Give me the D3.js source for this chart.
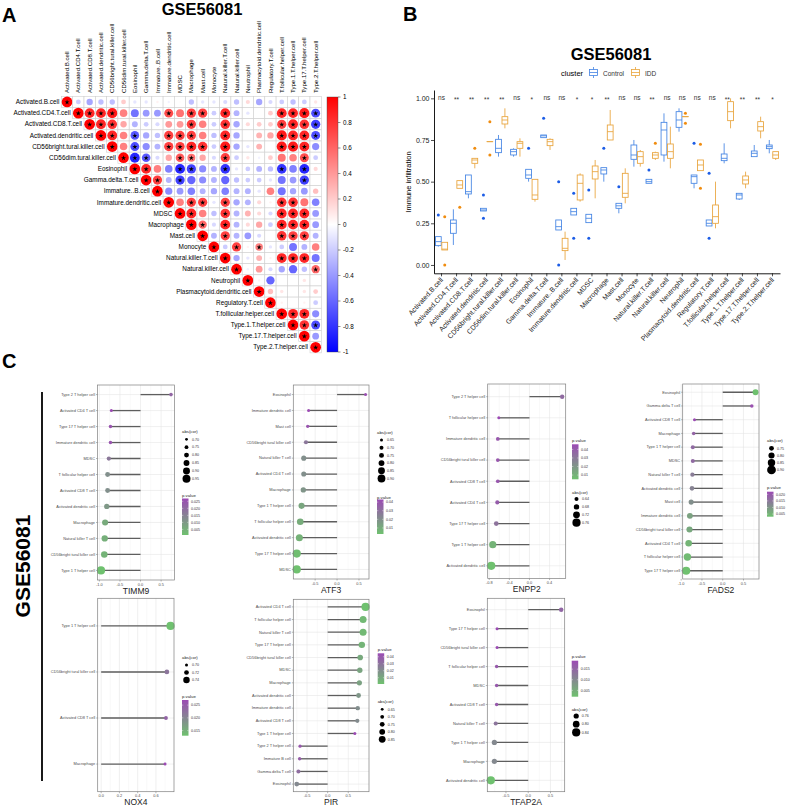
<!DOCTYPE html>
<html>
<head>
<meta charset="utf-8">
<script src="https://cdn.jsdelivr.net/npm/d3@7"></script>
<style>
body { margin: 0; background: #fff; }
svg { display: block; font-family: "Liberation Sans", Arial, Helvetica, sans-serif; }
</style>
</head>
<body>
<svg id="fig" width="789" height="810"></svg>
<script>
// ---------- data: panel A (correlation matrix, upper triangle from the diagonal) ----------
var cellTypes = ["Activated.B.cell", "Activated.CD4.T.cell", "Activated.CD8.T.cell", "Activated.dendritic.cell",
  "CD56bright.tural.killer.cell", "CD56dim.tural.killer.cell", "Eosinophil", "Gamma.delta.T.cell", "Immature..B.cell",
  "Immature.dendritic.cell", "MDSC", "Macrophage", "Mast.cell", "Monocyte", "Natural.killer.T.cell",
  "Natural.killer.cell", "Neutrophil", "Plasmacytoid.dendritic.cell", "Regulatory.T.cell",
  "T.follicular.helper.cell", "Type.1.T.helper.cell", "Type.17.T.helper.cell", "Type.2.T.helper.cell"];

var corrRows = [
  [1, -0.2, -0.35, -0.25, -0.25, 0.2, -0.1, -0.1, 0.05, -0.05, 0.02, -0.25, -0.1, -0.1, -0.15, -0.25, 0.15, -0.35, -0.15, -0.2, -0.25, -0.2, 0.1],
  [1, 0.85, 0.85, 0.9, 0.5, -0.55, -0.4, -0.4, 0.7, 0.55, 0.75, 0.75, -0.2, 0.85, -0.3, -0.1, 0, 0.2, 0.85, 0.85, 0.9, -0.7],
  [1, 0.85, 0.8, 0.35, -0.3, -0.2, -0.15, 0.4, 0.4, 0.75, 0.5, -0.2, 0.8, -0.35, 0.15, 0.2, 0.2, 0.75, 0.85, 0.8, -0.75],
  [1, 0.85, 0.5, -0.65, -0.35, -0.25, 0.75, 0.75, 0.75, 0.5, -0.25, 0.85, -0.35, 0, 0.3, 0.35, 0.9, 0.85, 0.85, -0.7],
  [1, 0.5, -0.7, -0.45, -0.3, 0.75, 0.75, 0.85, 0.8, -0.2, 0.9, -0.35, -0.1, 0.3, 0, 0.9, 0.9, 0.85, -0.45],
  [1, -0.85, -0.65, -0.15, 0.35, 0.65, 0.55, 0.35, -0.15, 0.75, -0.2, 0.1, -0.05, 0.2, 0.55, 0.5, 0.7, -0.2],
  [1, 0.85, 0.5, -0.5, -0.85, -0.75, -0.45, -0.3, -0.8, -0.1, -0.2, -0.3, -0.25, -0.8, -0.5, -0.85, 0.15],
  [1, 0.75, -0.3, -0.75, -0.6, -0.45, -0.3, -0.6, -0.25, -0.2, -0.2, -0.1, -0.55, -0.4, -0.75, 0],
  [1, -0.45, -0.4, -0.5, -0.3, -0.35, -0.5, -0.3, -0.3, -0.1, 0.5, -0.55, -0.35, -0.4, 0.25],
  [1, 0.5, 0.75, 0.75, -0.1, 0.75, -0.35, -0.3, 0.15, 0.05, 0.8, 0.8, 0.55, -0.5],
  [1, 0.85, 0.5, -0.25, 0.8, -0.3, 0.3, 0.15, -0.15, 0.85, 0.85, 0.85, -0.4],
  [1, 0.6, -0.15, 0.85, -0.3, 0.15, 0.35, -0.2, 0.85, 0.85, 0.85, -0.4],
  [1, -0.3, 0.75, -0.3, -0.4, -0.15, 0, 0.8, 0.75, 0.75, -0.3],
  [1, -0.2, 0.75, 0.05, 0.5, -0.1, -0.2, -0.55, -0.3, 0.5],
  [1, -0.35, -0.1, 0.3, 0.05, 0.85, 0.85, 0.85, -0.55],
  [1, -0.05, 0.4, -0.15, -0.35, -0.6, -0.25, 0.6],
  [1, 0.05, -0.6, 0, 0, 0.1, 0],
  [1, 0.25, 0.1, 0, 0.1, 0.2],
  [1, 0.05, 0, 0.05, -0.2],
  [1, 0.85, 0.85, -0.45],
  [1, 0.8, -0.7],
  [1, -0.4],
  [1]
];

// column indices carrying a significance star, per row
var corrStars = [
  [0], [1, 2, 3, 4, 9, 11, 12, 14, 19, 20, 21, 22], [2, 3, 4, 11, 14, 19, 20, 21, 22],
  [3, 4, 6, 9, 10, 11, 14, 19, 20, 21, 22], [4, 6, 9, 10, 11, 12, 14, 19, 20, 21],
  [5, 6, 7, 10, 11, 14, 21], [6, 7, 10, 11, 14, 19, 21], [7, 8, 10, 21], [8],
  [9, 11, 12, 14, 19, 20], [10, 11, 14, 19, 20, 21], [11, 12, 14, 19, 20, 21], [12, 14, 19, 20, 21],
  [13, 15, 17], [14, 19, 20, 21], [15, 22], [16], [17], [18], [19, 20, 21], [20, 21, 22], [21], [22]
];

var corrTicks = [1, 0.8, 0.6, 0.4, 0.2, 0, -0.2, -0.4, -0.6, -0.8, -1];
var corrTickLabels = ["1", "0.8", "0.6", "0.4", "0.2", "0", "-0.2", "-0.4", "-0.6", "-0.8", "-1"];

// ---------- data: panel B (box stats: [lower whisker, q1, median, q3, upper whisker]) ----------
var sigLabels = ["ns", "**", "**", "**", "**", "ns", "*", "ns", "ns", "*", "*", "**", "ns", "ns", "**", "ns",
  "ns", "ns", "ns", "**", "**", "**", "*"];

var controlBox = [
  [0.11, 0.116, 0.14, 0.17, 0.17], [0.12, 0.19, 0.25, 0.27, 0.334], [0.40, 0.426, 0.44, 0.54, 0.54],
  [0.324, 0.324, 0.33, 0.34, 0.34], [0.65, 0.674, 0.70, 0.754, 0.78], [0.65, 0.66, 0.68, 0.694, 0.70],
  [0.50, 0.52, 0.54, 0.574, 0.574], [0.764, 0.764, 0.775, 0.78, 0.78], [0.21, 0.21, 0.23, 0.27, 0.27],
  [0.30, 0.30, 0.32, 0.34, 0.34], [0.254, 0.254, 0.28, 0.304, 0.304], [0.50, 0.546, 0.57, 0.584, 0.584],
  [0.31, 0.34, 0.355, 0.37, 0.37], [0.59, 0.634, 0.66, 0.72, 0.75], [0.49, 0.49, 0.50, 0.514, 0.514],
  [0.62, 0.66, 0.81, 0.856, 0.91], [0.80, 0.826, 0.87, 0.92, 0.94], [0.46, 0.49, 0.53, 0.54, 0.54],
  [0.234, 0.234, 0.25, 0.27, 0.27], [0.61, 0.626, 0.64, 0.666, 0.73], [0.39, 0.396, 0.42, 0.43, 0.43],
  [0.65, 0.65, 0.67, 0.684, 0.72], [0.67, 0.698, 0.71, 0.72, 0.75]
];
var controlOut = [[0.30], [], [], [0.42, 0.28], [], [], [0.70], [0.88], [0.50, 0.0], [0.43, 0.16], [0.45, 0.16],
  [0.70], [0.47], [], [0.57], [], [], [0.73], [0.55, 0.16], [], [], [], []];

var iddBox = [
  [0.09, 0.09, 0.095, 0.136, 0.136], [0.46, 0.46, 0.48, 0.506, 0.506], [0.58, 0.61, 0.63, 0.64, 0.64],
  [0.74, 0.74, 0.74, 0.74, 0.74], [0.82, 0.846, 0.87, 0.89, 0.94], [0.65, 0.70, 0.73, 0.74, 0.76],
  [0.38, 0.394, 0.42, 0.514, 0.514], [0.69, 0.716, 0.74, 0.754, 0.76], [0.03, 0.086, 0.10, 0.16, 0.20],
  [0.38, 0.39, 0.49, 0.54, 0.55], [0.40, 0.516, 0.56, 0.594, 0.63], [0.75, 0.75, 0.80, 0.84, 0.93],
  [0.37, 0.406, 0.43, 0.55, 0.58], [0.59, 0.61, 0.65, 0.68, 0.69], [0.63, 0.64, 0.66, 0.674, 0.68],
  [0.58, 0.64, 0.68, 0.726, 0.83], [0.89, 0.89, 0.89, 0.89, 0.89], [0.566, 0.566, 0.60, 0.63, 0.63],
  [0.22, 0.25, 0.29, 0.36, 0.50], [0.82, 0.866, 0.92, 0.98, 1.0], [0.46, 0.486, 0.51, 0.534, 0.56],
  [0.76, 0.804, 0.83, 0.86, 0.89], [0.63, 0.64, 0.66, 0.68, 0.68]
];
var iddOut = [[0.29, 0.0], [0.346], [0.70], [0.86, 0.66], [], [], [], [], [], [], [], [], [], [], [0.73],
  [], [0.91, 0.85], [0.725, 0.46], [], [], [], [], []];

var yTicksB = [0, 0.25, 0.5, 0.75, 1];
var groupNames = ["Control", "IDD"];

// ---------- data: panel C (lollipop per gene) ----------
var genes = ["TIMM9", "ATF3", "ENPP2", "FADS2", "NOX4", "PIR", "TFAP2A"];

var timm9Cells = ["Type 2 T helper cell", "Activated CD4 T cell", "Type 17 T helper cell", "Immature dendritic cell",
  "MDSC", "T follicular helper cell", "Activated CD8 T cell", "Activated dendritic cell", "Macrophage",
  "Natural killer T cell", "CD56bright tural killer cell", "Type 1 T helper cell"];
var timm9Cor = [0.74, -0.71, -0.73, -0.73, -0.77, -0.80, -0.80, -0.82, -0.86, -0.87, -0.88, -0.96];
var timm9P = [0.021, 0.027, 0.025, 0.025, 0.017, 0.012, 0.012, 0.010, 0.006, 0.005, 0.004, 0.001];
var timm9Ticks = [-1.0, -0.5, 0.0, 0.5];
var timm9SizeBreaks = [0.70, 0.75, 0.80, 0.85, 0.90, 0.95];
var timm9PBreaks = [0.025, 0.020, 0.015, 0.010, 0.005];

var atf3Cells = ["Eosinophil", "Immature dendritic cell", "Mast cell", "CD56bright tural killer cell",
  "Natural killer T cell", "Activated CD4 T cell", "Macrophage", "Type 1 T helper cell", "T follicular helper cell",
  "Activated dendritic cell", "Type 17 T helper cell", "MDSC"];
var atf3Cor = [0.65, -0.65, -0.67, -0.71, -0.76, -0.76, -0.77, -0.81, -0.84, -0.86, -0.92, -0.92];
var atf3P = [0.042, 0.043, 0.040, 0.028, 0.020, 0.020, 0.018, 0.012, 0.010, 0.008, 0.004, 0.003];
var atf3Ticks = [-0.5, 0.0, 0.5];
var atf3SizeBreaks = [0.65, 0.70, 0.75, 0.80, 0.85, 0.90];
var atf3PBreaks = [0.04, 0.03, 0.02, 0.01];

var enpp2Cells = ["Type 2 T helper cell", "T follicular helper cell", "Immature dendritic cell",
  "CD56bright tural killer cell", "Activated CD8 T cell", "Activated CD4 T cell", "Type 17 T helper cell",
  "Type 1 T helper cell", "Activated dendritic cell"];
var enpp2Cor = [0.65, -0.61, -0.63, -0.63, -0.63, -0.64, -0.66, -0.73, -0.76];
var enpp2P = [0.035, 0.046, 0.042, 0.042, 0.042, 0.040, 0.032, 0.010, 0.005];
var enpp2Ticks = [-0.8, -0.4, 0.0, 0.4];
var enpp2SizeBreaks = [0.64, 0.68, 0.72, 0.76];
var enpp2PBreaks = [0.04, 0.03, 0.02, 0.01];

var fads2Cells = ["Eosinophil", "Gamma delta T cell", "Activated CD8 T cell", "Macrophage", "Type 1 T helper cell",
  "MDSC", "Natural killer T cell", "Activated dendritic cell", "Mast cell", "Immature dendritic cell",
  "CD56bright tural killer cell", "Activated CD4 T cell", "T follicular helper cell", "Type 17 T helper cell"];
var fads2Cor = [0.79, 0.70, -0.68, -0.70, -0.72, -0.72, -0.73, -0.74, -0.76, -0.79, -0.80, -0.82, -0.85, -0.88];
var fads2P = [0.003, 0.021, 0.022, 0.018, 0.017, 0.017, 0.014, 0.013, 0.011, 0.008, 0.007, 0.005, 0.004, 0.003];
var fads2Ticks = [-1.0, -0.5, 0.0, 0.5];
var fads2SizeBreaks = [0.75, 0.80, 0.85, 0.90];
var fads2PBreaks = [0.020, 0.015, 0.010, 0.005];

var nox4Cells = ["Type 1 T helper cell", "CD56bright tural killer cell", "Activated CD8 T cell", "Macrophage"];
var nox4Cor = [0.76, 0.72, 0.71, 0.70];
var nox4P = [0.013, 0.022, 0.024, 0.027];
var nox4Ticks = [0.0, 0.2, 0.4, 0.6];
var nox4SizeBreaks = [0.70, 0.72, 0.74];
var nox4PBreaks = [0.025, 0.020, 0.015];

var pirCells = ["Activated CD4 T cell", "T follicular helper cell", "Natural killer T cell", "Type 17 T helper cell",
  "CD56bright tural killer cell", "MDSC", "Macrophage", "Activated dendritic cell", "Immature dendritic cell",
  "Activated CD8 T cell", "Type 1 T helper cell", "Type 2 T helper cell", "Immature  B cell", "Gamma delta T cell",
  "Eosinophil"];
var pirCor = [0.92, 0.86, 0.86, 0.83, 0.79, 0.78, 0.77, 0.75, 0.73, 0.72, 0.66, -0.67, -0.68, -0.71, -0.75];
var pirP = [0.001, 0.004, 0.004, 0.006, 0.010, 0.012, 0.013, 0.017, 0.020, 0.021, 0.045, 0.040, 0.038, 0.032, 0.022];
var pirTicks = [-0.5, 0.0, 0.5];
var pirSizeBreaks = [0.65, 0.70, 0.75, 0.80, 0.85];
var pirPBreaks = [0.04, 0.03, 0.02, 0.01];

var tfap2aCells = ["Eosinophil", "Type 17 T helper cell", "CD56bright tural killer cell", "T follicular helper cell",
  "MDSC", "Activated CD8 T cell", "Natural killer T cell", "Type 1 T helper cell", "Macrophage",
  "Activated dendritic cell"];
var tfap2aCor = [0.74, -0.70, -0.70, -0.71, -0.71, -0.71, -0.73, -0.76, -0.76, -0.84];
var tfap2aP = [0.015, 0.019, 0.019, 0.017, 0.017, 0.017, 0.013, 0.010, 0.010, 0.002];
var tfap2aTicks = [-0.5, 0.0, 0.5];
var tfap2aSizeBreaks = [0.76, 0.80, 0.84];
var tfap2aPBreaks = [0.015, 0.010, 0.005];

// ---------- drawing ----------
var svg = d3.select("#fig");
svg.append("rect").attr("width", 789).attr("height", 810).attr("fill", "#fff");
var defs = svg.append("defs");

function label(txt, x, y, size, opts) {
  opts = opts || {};
  var t = svg.append("text").attr("x", x).attr("y", y).attr("font-size", size).text(txt)
    .attr("fill", opts.fill || "#000").attr("font-weight", opts.bold ? "bold" : null)
    .attr("text-anchor", opts.anchor || "start");
  if (opts.rotate) t.attr("transform", "rotate(" + opts.rotate + "," + x + "," + y + ")");
  return t;
}

label("A", 2, 22, 20, {bold: true});
label("B", 403, 21, 20, {bold: true});
label("C", 2, 368, 20, {bold: true});

// ----- Panel A -----
function drawCorr() {
  var g = svg.append("g");
  var x = d3.scaleBand().domain(cellTypes).range([61.4, 61.4 + 23 * 11.3]);
  var y = d3.scaleBand().domain(cellTypes).range([96.4, 96.4 + 23 * 11.15]);
  var col = d3.scaleLinear().domain([-1, 0, 1]).range(["#0000ff", "#ffffff", "#ff0000"]);
  var rMax = Math.min(x.bandwidth(), y.bandwidth()) * 0.48;
  var star = d3.symbol(d3.symbolStar).size(8);

  label("GSE56081", 202, 14.5, 16.5, {bold: true, anchor: "middle"});

  corrRows.forEach(function (row, i) {
    row.forEach(function (r, k) {
      var j = i + k;
      var cx = x(cellTypes[j]) + x.bandwidth() / 2, cy = y(cellTypes[i]) + y.bandwidth() / 2;
      g.append("rect").attr("x", x(cellTypes[j])).attr("y", y(cellTypes[i]))
        .attr("width", x.bandwidth()).attr("height", y.bandwidth())
        .attr("fill", "#fff").attr("stroke", "#cfcfcf").attr("stroke-width", 0.6);
      if (Math.abs(r) > 0.001) {
        g.append("circle").attr("cx", cx).attr("cy", cy).attr("r", rMax * Math.sqrt(Math.abs(r)))
          .attr("fill", col(r));
      }
      if (corrStars[i].indexOf(j) >= 0) {
        g.append("path").attr("d", star).attr("transform", "translate(" + cx + "," + (cy + 0.3) + ")")
          .attr("fill", "#000");
      }
    });
    label(cellTypes[i], x(cellTypes[i]) - 2, y(cellTypes[i]) + y.bandwidth() / 2 + 2.2, 6.4, {anchor: "end"});
    var cxl = x(cellTypes[i]) + x.bandwidth() / 2 + 2.1;
    label(cellTypes[i], cxl, 93, 6.1, {rotate: -90});
  });

  // colour legend
  var cy = d3.scaleLinear().domain([-1, 1]).range([352, 97]);
  var grad = defs.append("linearGradient").attr("id", "corrGrad").attr("x1", 0).attr("y1", 1).attr("x2", 0).attr("y2", 0);
  grad.append("stop").attr("offset", "0%").attr("stop-color", "#0000ff");
  grad.append("stop").attr("offset", "50%").attr("stop-color", "#ffffff");
  grad.append("stop").attr("offset", "100%").attr("stop-color", "#ff0000");
  g.append("rect").attr("x", 327).attr("y", cy(1)).attr("width", 11).attr("height", cy(-1) - cy(1))
    .attr("fill", "url(#corrGrad)").attr("stroke", "#444").attr("stroke-width", 0.4);
  corrTicks.forEach(function (v, i) {
    g.append("line").attr("x1", 338).attr("x2", 340.5).attr("y1", cy(v)).attr("y2", cy(v))
      .attr("stroke", "#222").attr("stroke-width", 0.5);
    label(corrTickLabels[i], 343, cy(v) + 2.2, 6.3);
  });
}

// ----- Panel B -----
function drawBox() {
  var g = svg.append("g");
  var x = d3.scaleBand().domain(cellTypes).range([434, 780]);
  var y = d3.scaleLinear().domain([-0.05, 1.05]).range([273.3, 90]);
  var stroke = ["#4283e3", "#e8a33a"], dot = ["#1b5ce6", "#f08c0f"];
  var off = [-3.2, 3.2], bw = 5.8;

  label("GSE56081", 611, 60, 16.5, {bold: true, anchor: "middle"});

  [controlBox, iddBox].forEach(function (stats, gi) {
    var outs = gi === 0 ? controlOut : iddOut;
    stats.forEach(function (s, i) {
      var cx = x(cellTypes[i]) + x.bandwidth() / 2 + off[gi];
      var bg = g.append("g").attr("stroke", stroke[gi]).attr("stroke-width", 0.85).attr("fill", "none");
      bg.append("line").attr("x1", cx).attr("x2", cx).attr("y1", y(s[0])).attr("y2", y(s[1]));
      bg.append("line").attr("x1", cx).attr("x2", cx).attr("y1", y(s[3])).attr("y2", y(s[4]));
      bg.append("rect").attr("x", cx - bw / 2).attr("y", y(s[3])).attr("width", bw)
        .attr("height", Math.max(0.01, y(s[1]) - y(s[3]))).attr("fill", "#fff");
      bg.append("line").attr("x1", cx - bw / 2).attr("x2", cx + bw / 2).attr("y1", y(s[2])).attr("y2", y(s[2]));
      outs[i].forEach(function (v) {
        g.append("circle").attr("cx", cx).attr("cy", y(v)).attr("r", 1.5).attr("fill", dot[gi]);
      });
    });
  });

  sigLabels.forEach(function (s, i) {
    label(s, x(cellTypes[i]) + x.bandwidth() / 2, y(1) + (s === "ns" ? 2 : 3.2), 6.5, {anchor: "middle", fill: "#333"});
  });

  var ay = g.append("g").attr("transform", "translate(434,0)")
    .call(d3.axisLeft(y).tickValues(yTicksB).tickFormat(d3.format(".2f")).tickSize(3).tickSizeOuter(0));
  var ax = g.append("g").attr("transform", "translate(0,273.3)")
    .call(d3.axisBottom(x).tickSize(3).tickSizeOuter(0));
  [ax, ay].forEach(function (a) {
    a.attr("font-family", null).attr("font-size", null);
    a.select(".domain").attr("stroke", "#000").attr("stroke-width", 0.9);
    a.selectAll(".tick line").attr("stroke", "#000").attr("stroke-width", 0.7);
    a.selectAll(".tick text").attr("font-size", 7).attr("fill", "#222");
  });
  ay.selectAll(".tick text").attr("x", -4.5);
  ax.selectAll(".tick text").attr("text-anchor", "end").attr("dy", null).attr("y", 0)
    .attr("transform", "translate(2,7) rotate(-48)");

  label("Immune infiltration", 411, 182, 7.5, {anchor: "middle", rotate: -90});

  // legend
  label("cluster", 561, 76, 7.5);
  var keys = [[589, 603], [631, 645]];
  keys.forEach(function (k, gi) {
    var kg = g.append("g").attr("stroke", stroke[gi]).attr("stroke-width", 0.8).attr("fill", "#fff");
    kg.append("line").attr("x1", k[0] + 4.5).attr("x2", k[0] + 4.5).attr("y1", 67).attr("y2", 78);
    kg.append("rect").attr("x", k[0] + 0.5).attr("y", 69.5).attr("width", 8).attr("height", 6);
    kg.append("line").attr("x1", k[0] + 0.5).attr("x2", k[0] + 8.5).attr("y1", 72.5).attr("y2", 72.5);
    label(groupNames[gi], k[1], 75.5, 6.5, {fill: "#333"});
  });
}

// ----- Panel C -----
var lolliData = [
  {cells: timm9Cells, cor: timm9Cor, p: timm9P, ticks: timm9Ticks, sizeBreaks: timm9SizeBreaks, pBreaks: timm9PBreaks},
  {cells: atf3Cells, cor: atf3Cor, p: atf3P, ticks: atf3Ticks, sizeBreaks: atf3SizeBreaks, pBreaks: atf3PBreaks},
  {cells: enpp2Cells, cor: enpp2Cor, p: enpp2P, ticks: enpp2Ticks, sizeBreaks: enpp2SizeBreaks, pBreaks: enpp2PBreaks},
  {cells: fads2Cells, cor: fads2Cor, p: fads2P, ticks: fads2Ticks, sizeBreaks: fads2SizeBreaks, pBreaks: fads2PBreaks},
  {cells: nox4Cells, cor: nox4Cor, p: nox4P, ticks: nox4Ticks, sizeBreaks: nox4SizeBreaks, pBreaks: nox4PBreaks},
  {cells: pirCells, cor: pirCor, p: pirP, ticks: pirTicks, sizeBreaks: pirSizeBreaks, pBreaks: pirPBreaks},
  {cells: tfap2aCells, cor: tfap2aCor, p: tfap2aP, ticks: tfap2aTicks, sizeBreaks: tfap2aSizeBreaks, pBreaks: tfap2aPBreaks}
];

// panel boxes and legend placement
var lolliLayout = [
  {x0: 97.5, x1: 174.5, y0: 385, y1: 580, lx: 182, absT: 433, absY: 439.3, absStep: 7.9, pT: 496.5, barY0: 498.5, barY1: 535},
  {x0: 293.3, x1: 369, y0: 385, y1: 579, lx: 377, absT: 433.5, absY: 440, absStep: 7.7, pT: 498.5, barY0: 499.5, barY1: 534},
  {x0: 487.7, x1: 565.7, y0: 384, y1: 578.5, lx: 572, absT: 493.5, absY: 499, absStep: 7.9, pT: 441.5, barY0: 444.3, barY1: 479.3},
  {x0: 682.7, x1: 759, y0: 384, y1: 579, lx: 767, absT: 441.5, absY: 448.3, absStep: 7.2, pT: 488.5, barY0: 491.7, barY1: 516.7},
  {x0: 97.7, x1: 174, y0: 598.3, y1: 791.7, lx: 182, absT: 658.5, absY: 665, absStep: 7.5, pT: 697.5, barY0: 700, barY1: 735.7},
  {x0: 293.3, x1: 369, y0: 599.3, y1: 791.7, lx: 377.7, absT: 702.5, absY: 709.3, absStep: 7.5, pT: 650.5, barY0: 653.3, barY1: 684},
  {x0: 487.3, x1: 564.7, y0: 598.3, y1: 791.7, lx: 571.7, absT: 710.5, absY: 716, absStep: 8.2, pT: 658, barY0: 660.7, barY1: 696.7}
];

function drawLolli(d, L, gene, idx) {
  var g = svg.append("g");
  var lo = Math.min(0, d3.min(d.cor)), hi = Math.max(0, d3.max(d.cor));
  var pad = (hi - lo) * 0.05;
  var x = d3.scaleLinear().domain([lo - pad, hi + pad]).range([L.x0, L.x1]);
  var y = d3.scalePoint().domain(d.cells).range([L.y0, L.y1]).padding(0.6);
  var size = d3.scaleLinear().domain(d3.extent(d.cor, Math.abs)).range([1.5, 4.1]);
  var col = d3.scaleLinear().domain(d3.extent(d.p)).range(["#6fc16f", "#9c4bb4"]).interpolate(d3.interpolateRgb);

  g.append("rect").attr("x", L.x0).attr("y", L.y0).attr("width", L.x1 - L.x0).attr("height", L.y1 - L.y0)
    .attr("fill", "#fff");
  var step = d.ticks[1] - d.ticks[0];
  var minor = d3.range(d.ticks[0] - step / 2, hi + pad, step).filter(function (v) { return v > lo - pad; });
  minor.forEach(function (v) {
    g.append("line").attr("x1", x(v)).attr("x2", x(v)).attr("y1", L.y0).attr("y2", L.y1)
      .attr("stroke", "#f0f0f0").attr("stroke-width", 0.4);
  });
  d.ticks.forEach(function (v) {
    g.append("line").attr("x1", x(v)).attr("x2", x(v)).attr("y1", L.y0).attr("y2", L.y1)
      .attr("stroke", "#e3e3e3").attr("stroke-width", 0.55);
    g.append("line").attr("x1", x(v)).attr("x2", x(v)).attr("y1", L.y1).attr("y2", L.y1 + 1.5)
      .attr("stroke", "#444").attr("stroke-width", 0.4);
    label(d3.format(".1f")(v).replace("−", "-"), x(v), L.y1 + 5.5, 3.9, {anchor: "middle", fill: "#4d4d4d"});
  });
  d.cells.forEach(function (c) {
    g.append("line").attr("x1", L.x0).attr("x2", L.x1).attr("y1", y(c)).attr("y2", y(c))
      .attr("stroke", "#e3e3e3").attr("stroke-width", 0.55);
    g.append("line").attr("x1", L.x0 - 1.5).attr("x2", L.x0).attr("y1", y(c)).attr("y2", y(c))
      .attr("stroke", "#444").attr("stroke-width", 0.4);
    label(c, L.x0 - 2.5, y(c) + 1.3, 3.9, {anchor: "end", fill: "#4d4d4d"});
  });
  d.cor.forEach(function (v, i) {
    var yy = y(d.cells[i]);
    g.append("line").attr("x1", x(0)).attr("x2", x(v)).attr("y1", yy).attr("y2", yy)
      .attr("stroke", "#5e5e5e").attr("stroke-width", 1.3);
    g.append("circle").attr("cx", x(v)).attr("cy", yy).attr("r", size(Math.abs(v))).attr("fill", col(d.p[i]));
  });
  g.append("rect").attr("x", L.x0).attr("y", L.y0).attr("width", L.x1 - L.x0).attr("height", L.y1 - L.y0)
    .attr("fill", "none").attr("stroke", "#7f7f7f").attr("stroke-width", 0.7);

  label(gene, (L.x0 + L.x1) / 2, L.y1 + 13.5, 8.5, {anchor: "middle", fill: "#222"});

  // size legend
  label("abs(cor)", L.lx, L.absT, 4.3, {fill: "#222"});
  d.sizeBreaks.forEach(function (b, i) {
    var yy = L.absY + i * L.absStep;
    g.append("circle").attr("cx", L.lx + 4.5).attr("cy", yy).attr("r", Math.max(1.1, size(b))).attr("fill", "#000");
    label(d3.format(".2f")(b), L.lx + 10, yy + 1.2, 3.6, {fill: "#333"});
  });

  // p value colour bar
  label("p.value", L.lx, L.pT, 4.3, {fill: "#222"});
  var gid = "pgrad" + idx;
  var grad = defs.append("linearGradient").attr("id", gid).attr("x1", 0).attr("y1", 1).attr("x2", 0).attr("y2", 0);
  grad.append("stop").attr("offset", "0%").attr("stop-color", col.range()[0]);
  grad.append("stop").attr("offset", "100%").attr("stop-color", col.range()[1]);
  g.append("rect").attr("x", L.lx).attr("y", L.barY0).attr("width", 6.5).attr("height", L.barY1 - L.barY0)
    .attr("fill", "url(#" + gid + ")");
  var py = d3.scaleLinear().domain(d3.extent(d.p)).range([L.barY1, L.barY0]);
  var pf = d.pBreaks.some(function (b) { return Math.round(b * 1000) % 10 !== 0; }) ? ".3f" : ".2f";
  d.pBreaks.forEach(function (b) {
    g.append("line").attr("x1", L.lx).attr("x2", L.lx + 1.3).attr("y1", py(b)).attr("y2", py(b))
      .attr("stroke", "#fff").attr("stroke-width", 0.4);
    g.append("line").attr("x1", L.lx + 5.2).attr("x2", L.lx + 6.5).attr("y1", py(b)).attr("y2", py(b))
      .attr("stroke", "#fff").attr("stroke-width", 0.4);
    label(d3.format(pf)(b), L.lx + 9, py(b) + 1.2, 3.6, {fill: "#333"});
  });
}

drawCorr();
drawBox();

label("GSE56081", 30, 566, 21, {bold: true, anchor: "middle", rotate: -90});
svg.append("line").attr("x1", 42).attr("x2", 42).attr("y1", 392).attr("y2", 781)
  .attr("stroke", "#000").attr("stroke-width", 1.8);

lolliData.forEach(function (d, i) { drawLolli(d, lolliLayout[i], genes[i], i); });
</script>
</body>
</html>
